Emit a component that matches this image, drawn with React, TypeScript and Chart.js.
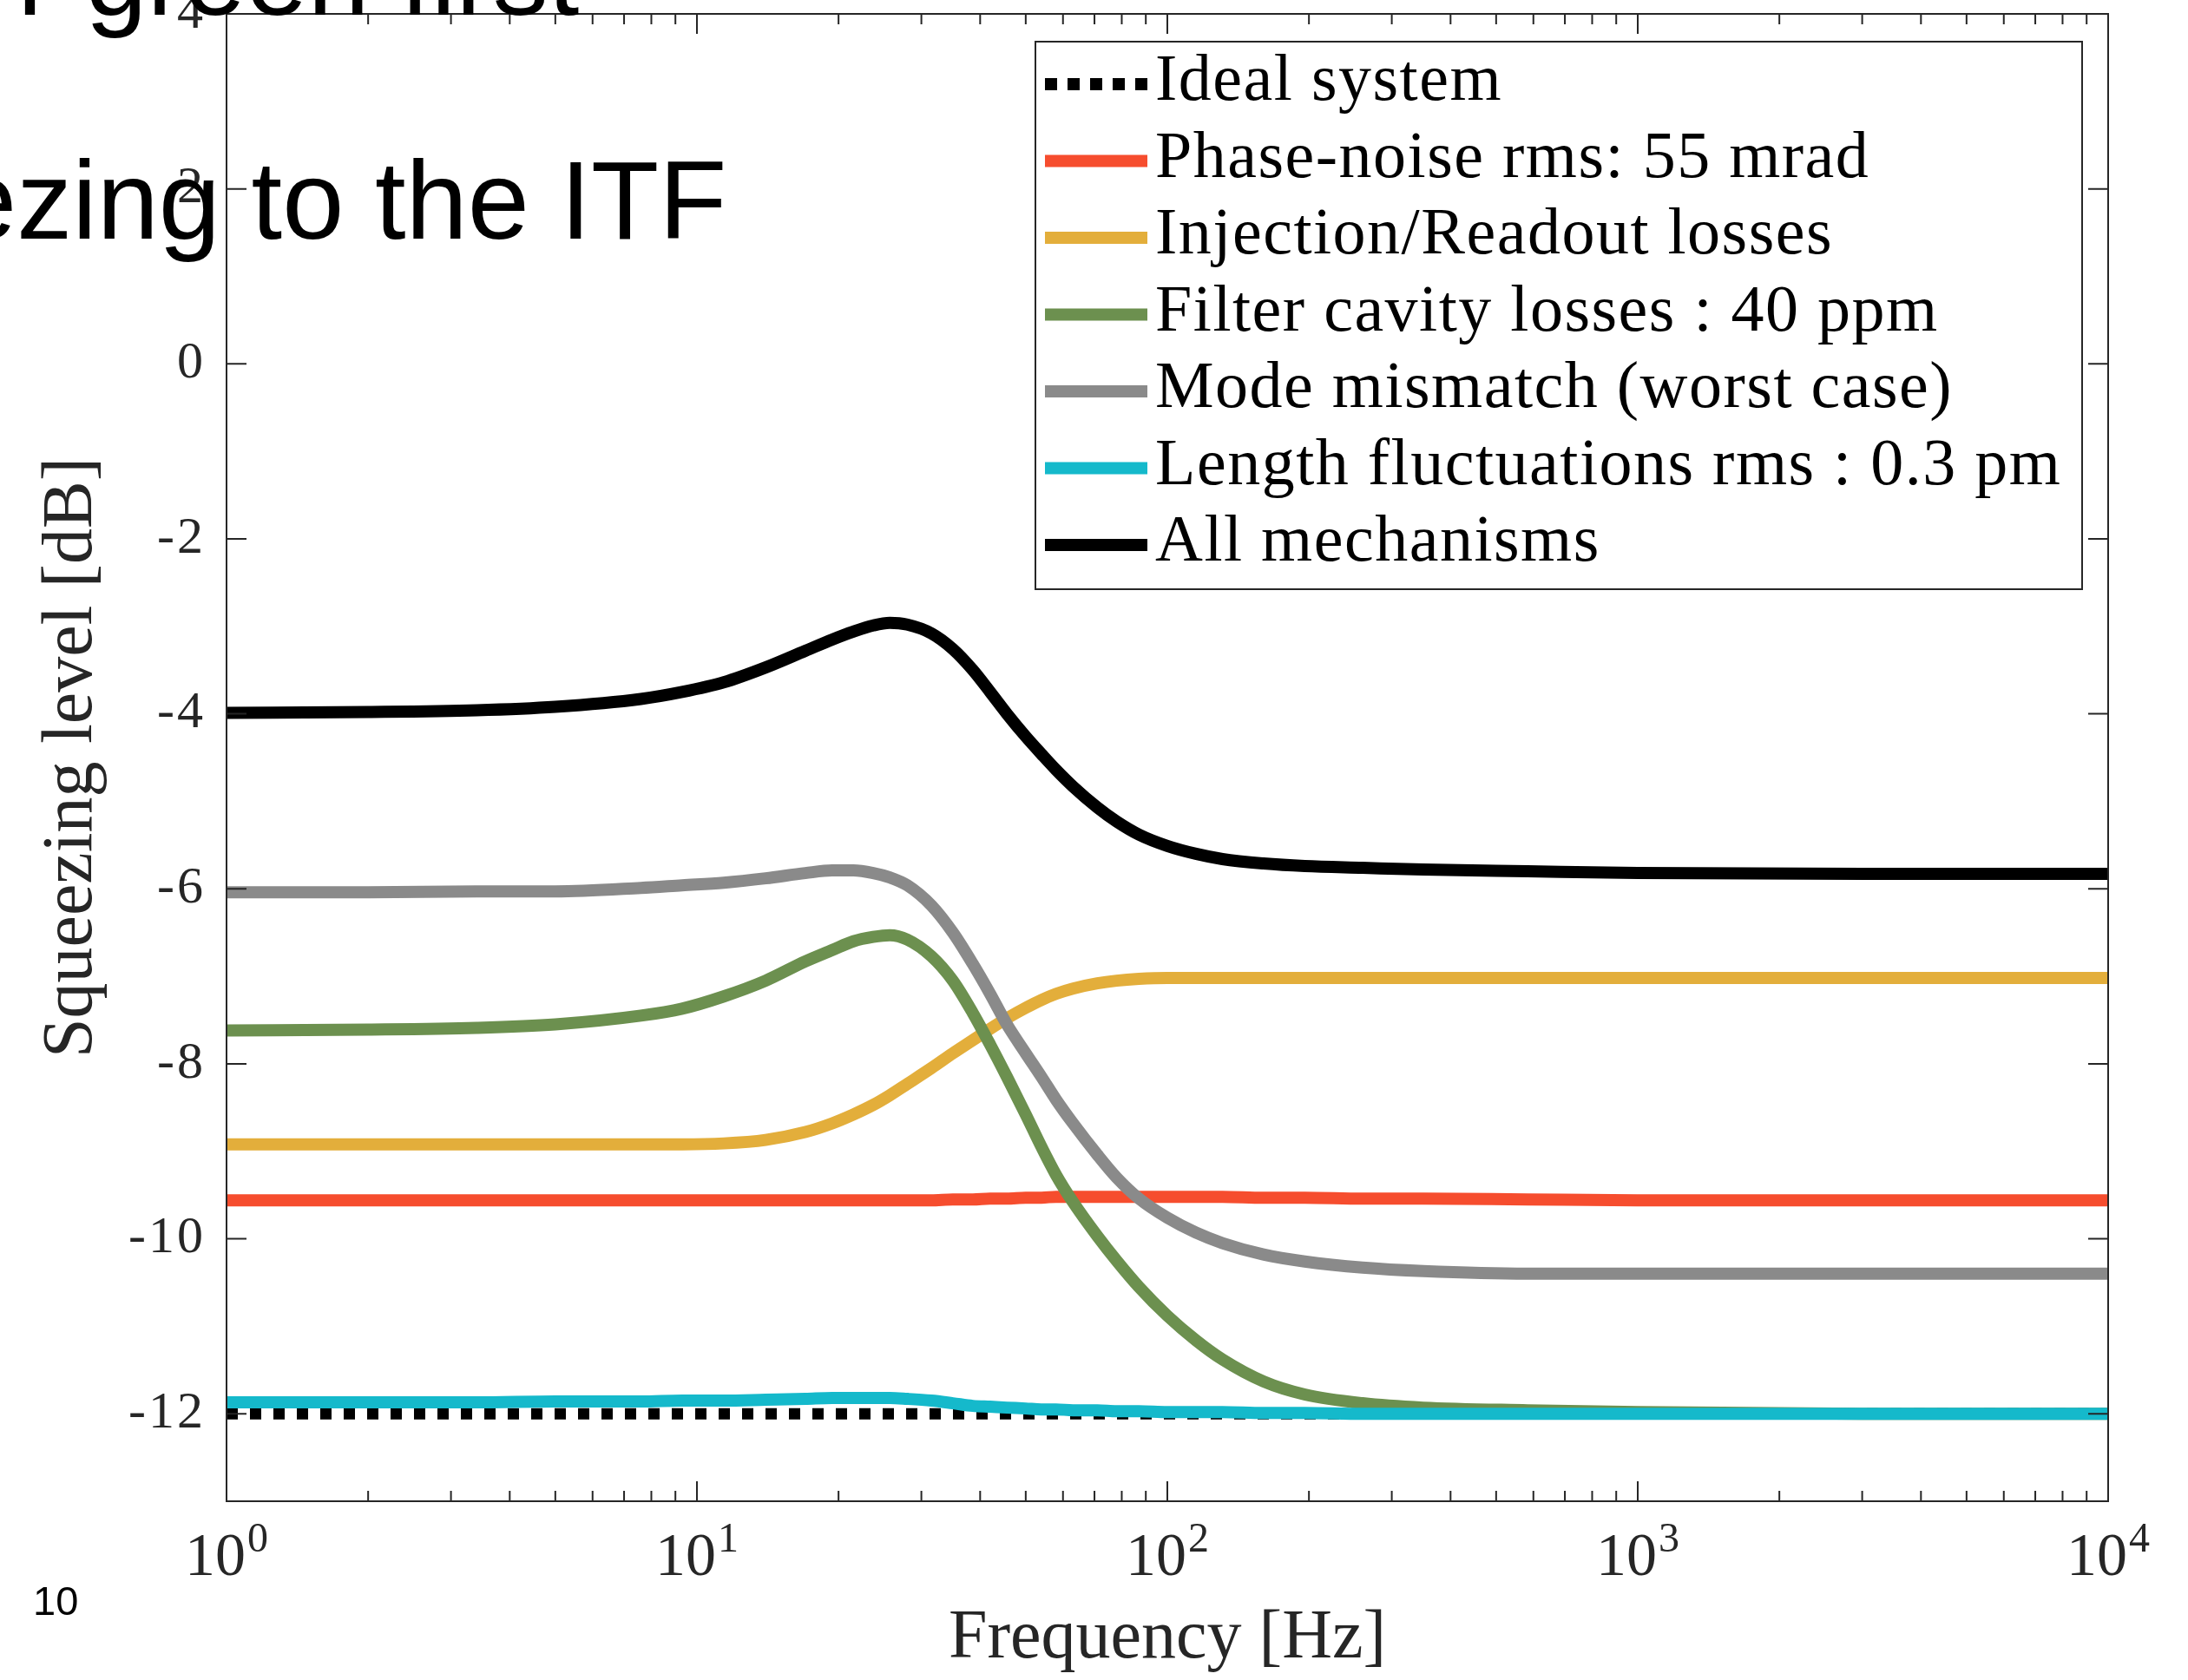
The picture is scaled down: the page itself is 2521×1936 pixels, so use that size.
import React, { useEffect, useRef } from 'react';
import { Chart, registerables } from 'chart.js';

Chart.register(...registerables);

// ---------- data ----------
const freqHz = [1, 2, 3.4, 5, 7.6, 9.3, 11.4, 14, 17, 19.4, 21.5, 23.7, 25.7, 28, 31.5, 35, 38.6, 42, 45.6, 50, 54, 58, 63, 71, 78, 87, 100, 115, 131, 160, 196, 260, 350, 583, 1000, 3000, 10000];

const idealFreqHz = [1, 10000];
const idealSystem = [-12, -12];

const phaseNoise = [-9.56, -9.56, -9.56, -9.56, -9.56, -9.56, -9.56, -9.56, -9.56, -9.56, -9.56, -9.56, -9.56, -9.56, -9.56, -9.55, -9.55, -9.54, -9.54, -9.53, -9.53, -9.52, -9.52, -9.52, -9.52, -9.52, -9.52, -9.52, -9.52, -9.53, -9.53, -9.54, -9.54, -9.55, -9.56, -9.56, -9.56];

const injectionReadout = [-8.92, -8.92, -8.92, -8.92, -8.92, -8.92, -8.91, -8.87, -8.78, -8.68, -8.58, -8.47, -8.36, -8.23, -8.05, -7.88, -7.73, -7.6, -7.48, -7.36, -7.27, -7.2, -7.14, -7.08, -7.05, -7.03, -7.02, -7.02, -7.02, -7.02, -7.02, -7.02, -7.02, -7.02, -7.02, -7.02, -7.02];

const filterCavity = [-7.62, -7.61, -7.59, -7.55, -7.45, -7.37, -7.23, -7.05, -6.83, -6.70, -6.60, -6.55, -6.53, -6.58, -6.77, -7.05, -7.42, -7.78, -8.15, -8.58, -8.95, -9.27, -9.58, -9.97, -10.25, -10.55, -10.88, -11.16, -11.38, -11.63, -11.78, -11.88, -11.93, -11.96, -11.98, -12.0, -12.0];

const modeMismatch = [-6.04, -6.04, -6.03, -6.03, -5.99, -5.96, -5.93, -5.88, -5.82, -5.79, -5.79, -5.82, -5.87, -5.96, -6.19, -6.5, -6.86, -7.2, -7.55, -7.88, -8.15, -8.41, -8.68, -9.04, -9.3, -9.54, -9.76, -9.93, -10.05, -10.18, -10.26, -10.33, -10.37, -10.4, -10.4, -10.4, -10.4];

const lengthFluct = [-11.87, -11.87, -11.87, -11.86, -11.86, -11.85, -11.85, -11.84, -11.83, -11.82, -11.82, -11.82, -11.82, -11.83, -11.85, -11.88, -11.91, -11.92, -11.93, -11.94, -11.95, -11.95, -11.96, -11.96, -11.97, -11.97, -11.98, -11.98, -11.98, -11.99, -11.99, -12.0, -12.0, -12.0, -12.0, -12.0, -12.0];

const allMechanisms = [-3.99, -3.98, -3.96, -3.92, -3.83, -3.75, -3.64, -3.47, -3.28, -3.15, -3.06, -2.99, -2.96, -2.98, -3.08, -3.26, -3.5, -3.75, -4.0, -4.26, -4.46, -4.64, -4.83, -5.07, -5.23, -5.38, -5.51, -5.6, -5.66, -5.71, -5.74, -5.76, -5.78, -5.8, -5.82, -5.83, -5.83];

const seriesLabels = [
  'Ideal system',
  'Phase-noise rms: 55 mrad',
  'Injection/Readout losses',
  'Filter cavity losses : 40 ppm',
  'Mode mismatch (worst case)',
  'Length fluctuations rms : 0.3 pm',
  'All mechanisms',
];
const seriesColors = ['#000000', '#F64D2E', '#E3AE3B', '#6C904F', '#8A8A8A', '#15B9CB', '#000000'];

const yTickValues = [4, 2, 0, -2, -4, -6, -8, -10, -12];
const yTickLabels = ['4', '2', '0', '-2', '-4', '-6', '-8', '-10', '-12'];
const xMajorTicks = [1, 10, 100, 1000, 10000];
const xTickBase = '10';
const xTickExponents = ['0', '1', '2', '3', '4'];
const xMinorFactors = [2, 3, 4, 5, 6, 7, 8, 9];

const xTitle = 'Frequency [Hz]';
const yTitle = 'Squeezing level [dB]';

// ---------- styling ----------
const AXIS_COLOR = '#262626';
const SERIF = '"Liberation Serif", "Times New Roman", serif';
const LINE_W = 14;

const framePlugin = {
  id: 'matlabFrame',
  afterDatasetsDraw(chart: any) {
    const { ctx, chartArea: a } = chart;
    const xs = chart.scales.x;
    const ys = chart.scales.y;
    ctx.save();

    // box + inward ticks
    ctx.strokeStyle = AXIS_COLOR;
    ctx.lineWidth = 2;
    ctx.lineCap = 'butt';
    ctx.setLineDash([]);
    ctx.beginPath();
    ctx.rect(a.left, a.top, a.right - a.left, a.bottom - a.top);
    const seg = (x1: number, y1: number, x2: number, y2: number) => {
      ctx.moveTo(x1, y1);
      ctx.lineTo(x2, y2);
    };
    xMajorTicks.forEach((v, i) => {
      const px = xs.getPixelForValue(v);
      seg(px, a.bottom, px, a.bottom - 23);
      seg(px, a.top, px, a.top + 23);
      if (i < xMajorTicks.length - 1) {
        xMinorFactors.forEach((m) => {
          const pm = xs.getPixelForValue(v * m);
          seg(pm, a.bottom, pm, a.bottom - 12);
          seg(pm, a.top, pm, a.top + 12);
        });
      }
    });
    yTickValues.forEach((v) => {
      const py = ys.getPixelForValue(v);
      seg(a.left, py, a.left + 23, py);
      seg(a.right, py, a.right - 23, py);
    });
    ctx.stroke();

    // y tick labels
    ctx.fillStyle = AXIS_COLOR;
    ctx.font = `60px ${SERIF}`;
    (ctx as any).letterSpacing = '3px';
    ctx.textAlign = 'right';
    ctx.textBaseline = 'middle';
    yTickValues.forEach((v, i) => {
      ctx.fillText(yTickLabels[i], a.left - 24, ys.getPixelForValue(v));
    });
    (ctx as any).letterSpacing = '0px';

    // x tick labels (10^n)
    ctx.textAlign = 'left';
    ctx.textBaseline = 'alphabetic';
    xMajorTicks.forEach((v, i) => {
      const px = xs.getPixelForValue(v);
      ctx.font = `70px ${SERIF}`;
      const wb = ctx.measureText(xTickBase).width;
      ctx.font = `48px ${SERIF}`;
      const we = ctx.measureText(xTickExponents[i]).width;
      const x0 = px - (wb + we + 2) / 2;
      ctx.font = `70px ${SERIF}`;
      ctx.fillText(xTickBase, x0, a.bottom + 85);
      ctx.font = `48px ${SERIF}`;
      ctx.fillText(xTickExponents[i], x0 + wb + 2, a.bottom + 58);
    });

    // axis titles
    ctx.font = `80px ${SERIF}`;
    ctx.textAlign = 'center';
    ctx.fillText(xTitle, (a.left + a.right) / 2, a.bottom + 180);
    ctx.save();
    ctx.translate(a.left - 156, (a.top + a.bottom) / 2);
    ctx.rotate(-Math.PI / 2);
    ctx.font = `82px ${SERIF}`;
    ctx.fillText(yTitle, 0, 0);
    ctx.restore();

    // legend
    const lx0 = 1193, ly0 = 48, lx1 = 2399, ly1 = 679;
    ctx.fillStyle = '#ffffff';
    ctx.fillRect(lx0, ly0, lx1 - lx0, ly1 - ly0);
    ctx.strokeStyle = AXIS_COLOR;
    ctx.lineWidth = 2;
    ctx.strokeRect(lx0, ly0, lx1 - lx0, ly1 - ly0);
    seriesLabels.forEach((label, i) => {
      const cy = 97 + i * 88.5;
      ctx.beginPath();
      ctx.strokeStyle = seriesColors[i];
      ctx.lineWidth = 14;
      ctx.lineCap = 'butt';
      ctx.setLineDash(i === 0 ? [14, 12] : []);
      ctx.moveTo(1204, cy);
      ctx.lineTo(1322, cy);
      ctx.stroke();
      ctx.setLineDash([]);
      ctx.fillStyle = '#000000';
      ctx.font = `76px ${SERIF}`;
      (ctx as any).letterSpacing = '1.5px';
      ctx.textAlign = 'left';
      ctx.textBaseline = 'alphabetic';
      ctx.fillText(label, 1331, cy + 18);
      (ctx as any).letterSpacing = '0px';
    });

    ctx.restore();
  },
};

const seriesValues = [idealSystem, phaseNoise, injectionReadout, filterCavity, modeMismatch, lengthFluct, allMechanisms];

export default function App() {
  const ref = useRef<HTMLCanvasElement | null>(null);

  useEffect(() => {
    document.body.style.margin = '0';
    document.body.style.overflow = 'hidden';
    const canvas = ref.current;
    if (!canvas) return;
    const datasets = seriesValues.map((vals, i) => {
      const xsrc = i === 0 ? idealFreqHz : freqHz;
      return {
        label: seriesLabels[i],
        data: vals.map((y, k) => ({ x: xsrc[k], y })),
        borderColor: seriesColors[i],
        backgroundColor: seriesColors[i],
        borderWidth: i === 0 ? 13 : LINE_W,
        borderDash: i === 0 ? [13, 14] : [],
        borderCapStyle: 'butt' as const,
        borderJoinStyle: 'round' as const,
        pointRadius: 0,
        fill: false,
        cubicInterpolationMode: 'monotone' as const,
        order: seriesValues.length - i,
      };
    });
    const chart = new Chart(canvas, {
      type: 'line',
      data: { datasets },
      options: {
        animation: false,
        responsive: false,
        maintainAspectRatio: false,
        devicePixelRatio: 1,
        layout: { padding: { left: 261, top: 16, right: 92, bottom: 206 } },
        scales: {
          x: { type: 'logarithmic', min: 1, max: 10000, display: false },
          y: { type: 'linear', min: -13, max: 4, display: false },
        },
        plugins: {
          legend: { display: false },
          tooltip: { enabled: false },
        },
        events: [],
      },
      plugins: [framePlugin],
    });
    return () => chart.destroy();
  }, []);

  const slide: React.CSSProperties = {
    position: 'absolute',
    fontFamily: '"Liberation Sans", Arial, Helvetica, sans-serif',
    lineHeight: 1,
    whiteSpace: 'nowrap',
    color: '#000',
    margin: 0,
    pointerEvents: 'none',
  };

  return (
    <div style={{ position: 'relative', width: 2521, height: 1936, overflow: 'hidden', background: '#fff' }}>
      <canvas ref={ref} width={2521} height={1936} style={{ display: 'block', width: 2521, height: 1936 }} />
      <div style={{ ...slide, top: -91, left: 20, fontSize: 128 }}>r green first</div>
      <div style={{ ...slide, top: 167, left: -52, fontSize: 128 }}>ezing to the ITF</div>
      <div style={{ ...slide, top: 1821, left: 38, fontSize: 47 }}>10</div>
    </div>
  );
}
